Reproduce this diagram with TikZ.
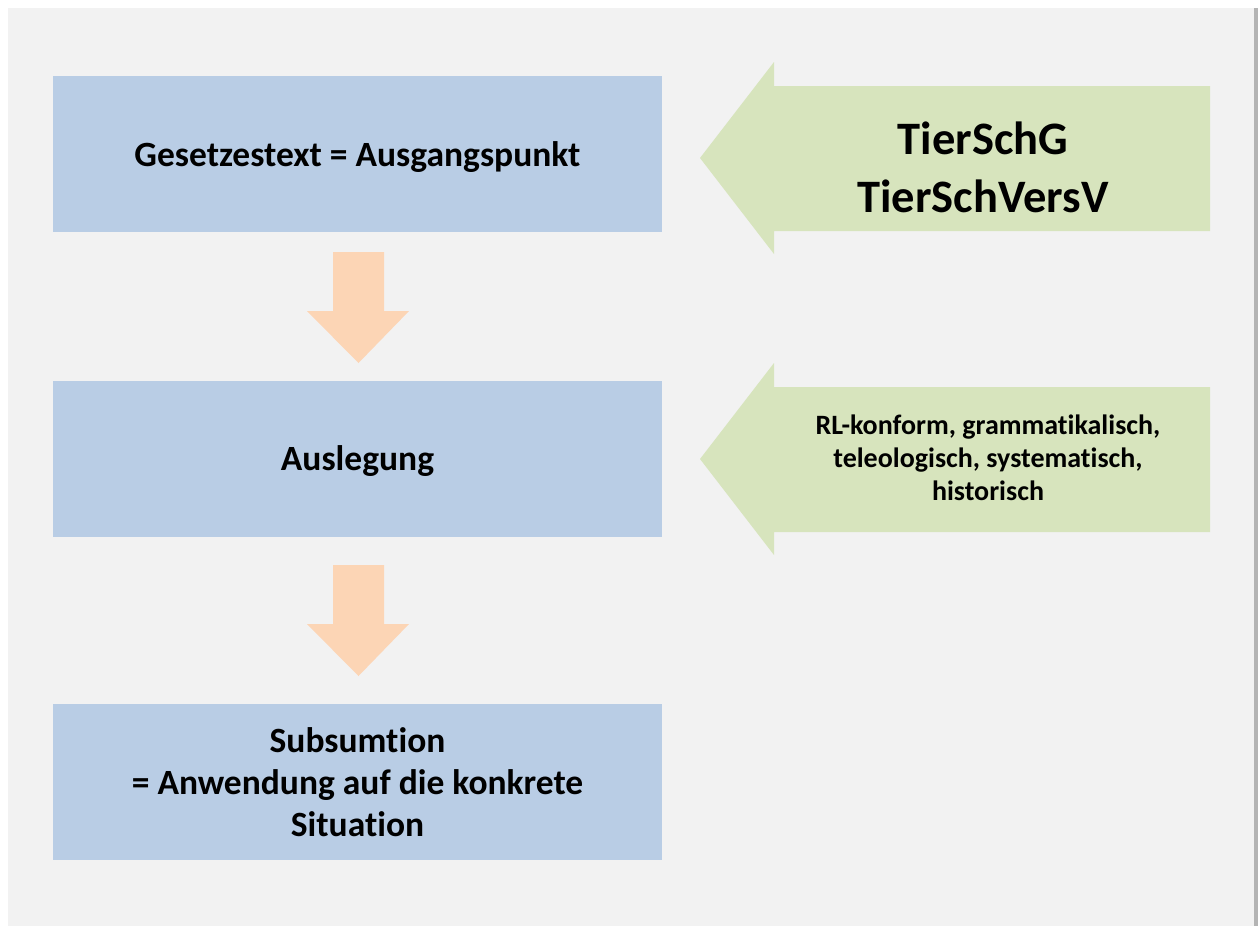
\documentclass[tikz,border=0pt]{standalone}
\usepackage{fontspec}
\setmainfont{Carlito}[Ligatures=NoCommon]
\usepackage{tikz}

\definecolor{panelgray}{HTML}{F2F2F2}
\definecolor{shadowgray}{HTML}{B4B4B4}
\definecolor{stepblue}{HTML}{B9CDE5}
\definecolor{flowpeach}{HTML}{FCD5B5}
\definecolor{lawgreen}{HTML}{D7E4BD}

\tikzset{
  stepbox/.style={fill=stepblue, minimum width=609pt, minimum height=156pt,
    inner sep=0pt, align=center, font=\fontsize{35.5}{42}\selectfont\bfseries},
  lawtext/.style={align=center, inner sep=0pt},
}

\begin{document}
\begin{tikzpicture}[x=1pt,y=-1pt]
\useasboundingbox (0,0) rectangle (1258,926);
% panel
\fill [panelgray] (8,8) rectangle (1254,926);
\fill [shadowgray] (1254,8) rectangle (1258,926);
% steps
\node [stepbox, text depth=0pt] (text) at (357.5,154) {Gesetzestext = Ausgangspunkt};
\node [stepbox, text depth=0pt] (ausl) at (357.5,458.5) {Auslegung};
\node [stepbox] (subs) at (357.5,782) {Subsumtion\\= Anwendung auf die konkrete\\Situation};
% down arrows
\foreach \t in {252,565} {
  \fill [flowpeach] (333,\t) -- (384,\t) -- (384,\t+59) -- (409,\t+59)
    -- (358.5,\t+111) -- (307,\t+59) -- (333,\t+59) -- cycle;
}
% left arrows
\foreach \t in {62,363} {
  \fill [lawgreen] (700,\t+96) -- (774,\t) -- (774,\t+24) -- (1210,\t+24)
    -- (1210,\t+169) -- (774,\t+169) -- (774,\t+192) -- cycle;
}
\node [lawtext, font=\fontsize{46.5}{58}\selectfont\bfseries] (gesetz) at (983,167)
  {TierSchG\\TierSchVersV};
\node [lawtext, font=\fontsize{28}{33}\selectfont\bfseries] (methode) at (988,458)
  {RL-konform, grammatikalisch,\\teleologisch, systematisch,\\historisch};
\end{tikzpicture}
\end{document}
